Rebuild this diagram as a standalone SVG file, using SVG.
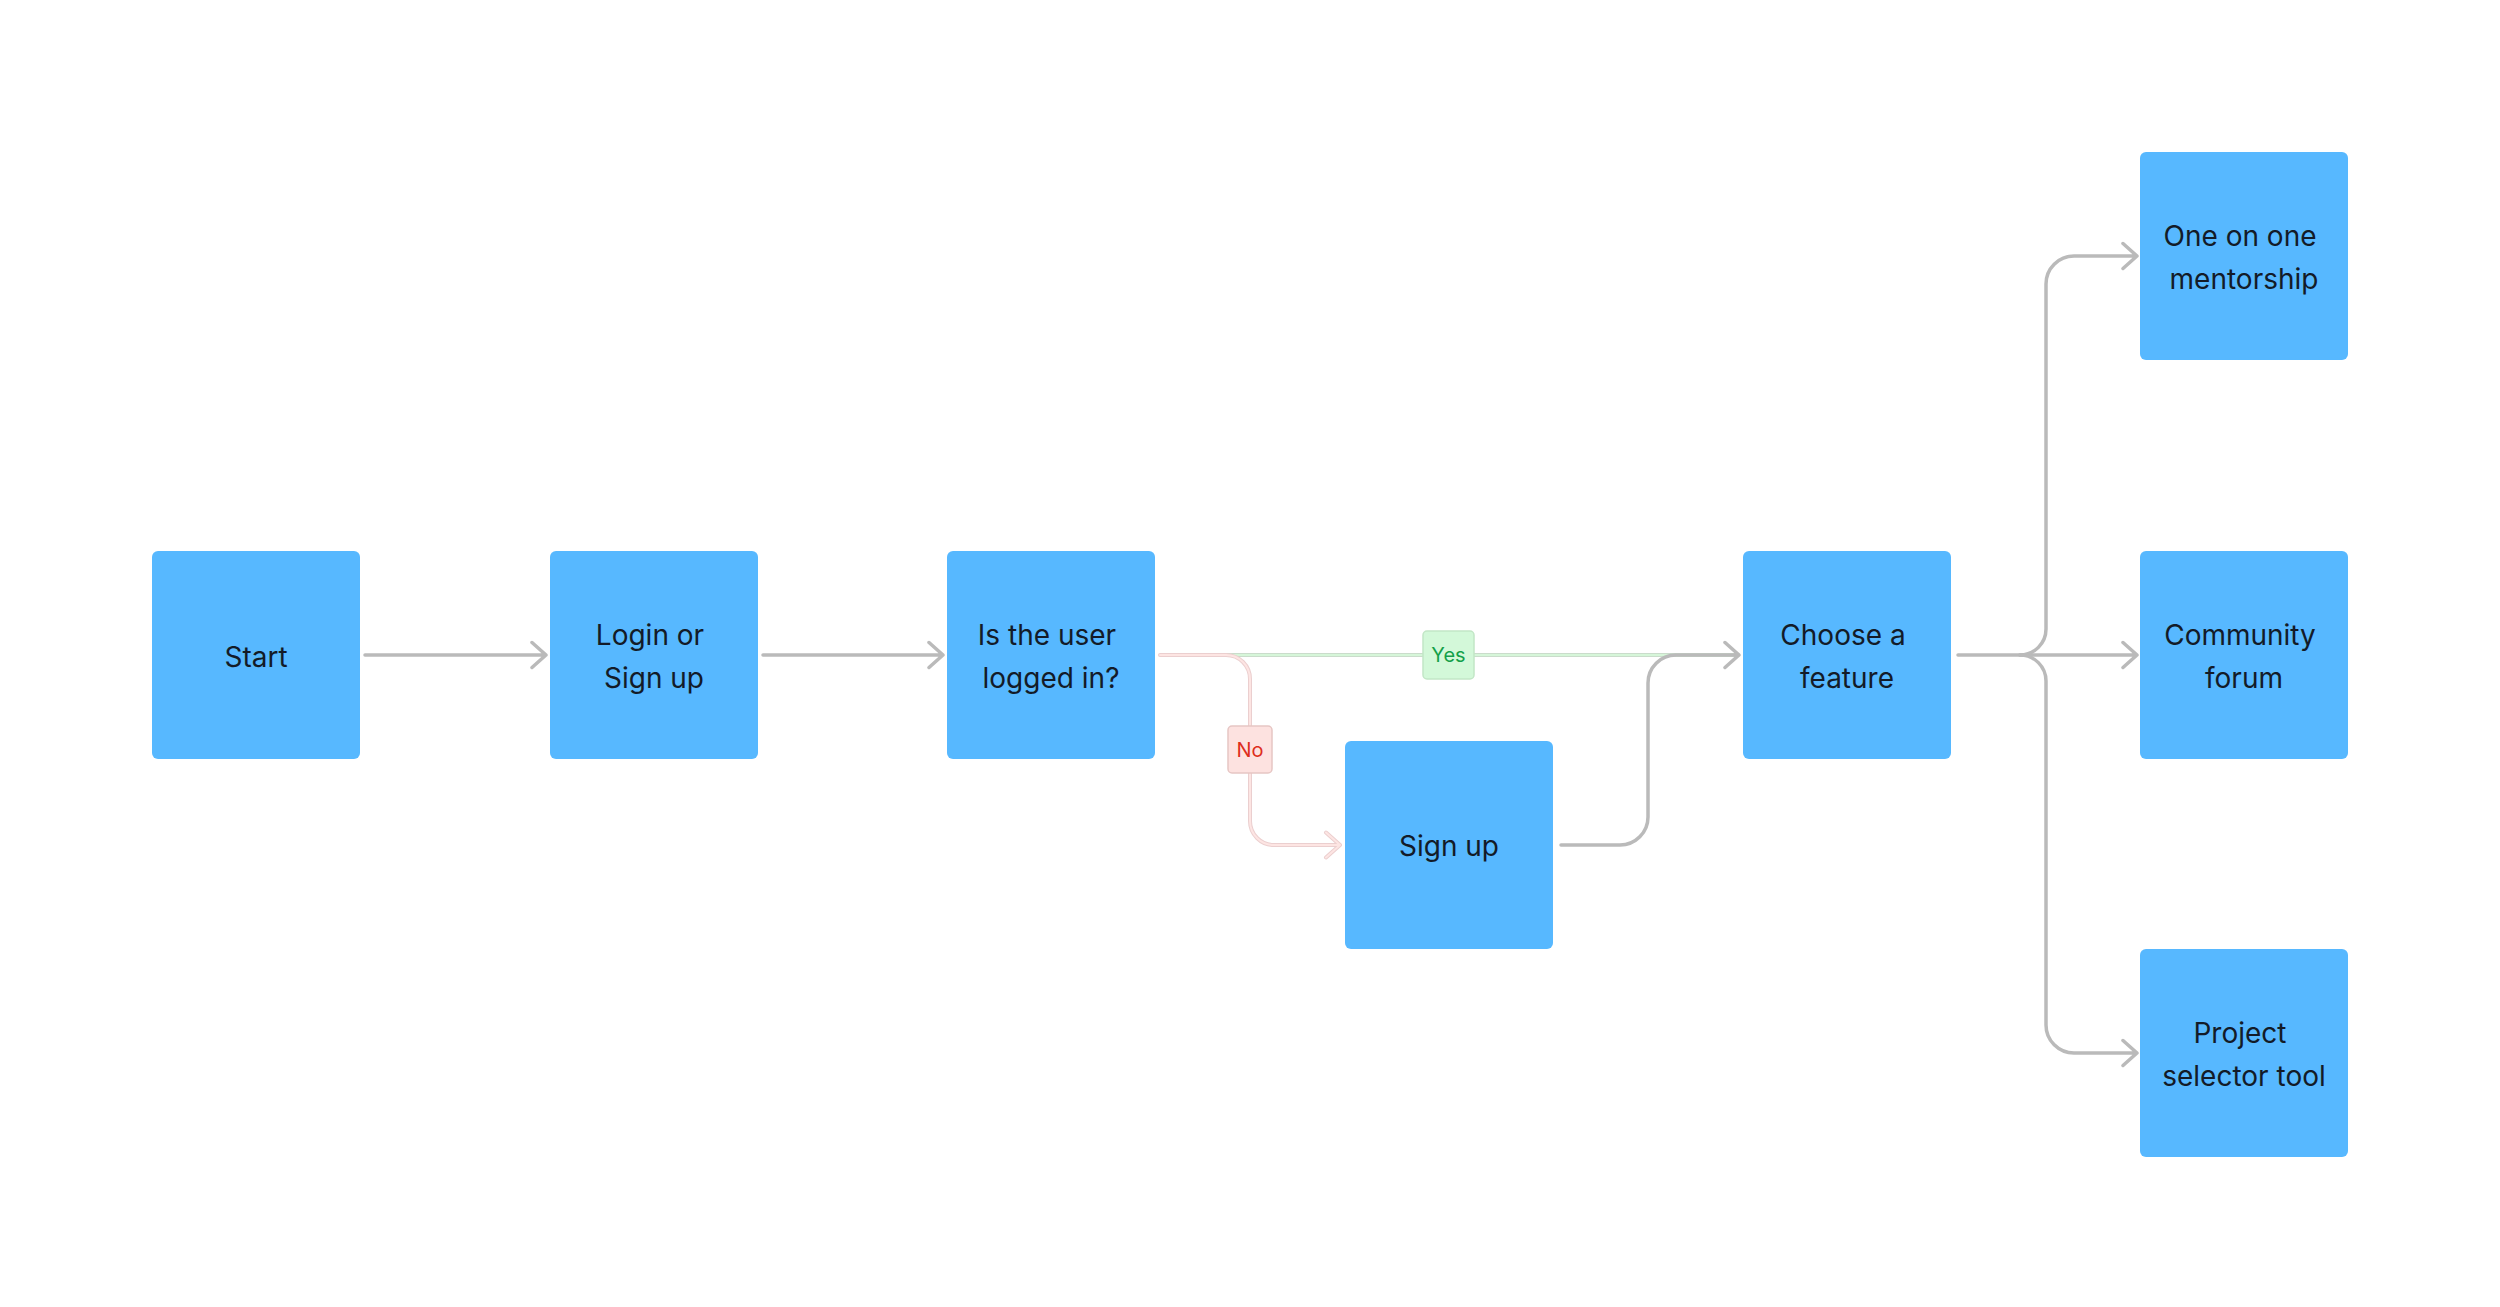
<svg xmlns="http://www.w3.org/2000/svg" width="2500" height="1307" viewBox="0 0 2500 1307">
<style>
.box{fill:#57b8ff;}
.t{font-family:Inter,"Liberation Sans",sans-serif;font-size:28px;fill:#131b28;text-anchor:middle;}
.c{fill:none;stroke:#bababa;stroke-width:3.5;stroke-linecap:round;stroke-linejoin:round;}
.go{fill:none;stroke:#cadccb;stroke-width:4;stroke-linecap:round;stroke-linejoin:round;}
.gi{fill:none;stroke:#d6f6d9;stroke-width:2;stroke-linecap:round;stroke-linejoin:round;}
.po{fill:none;stroke:#ebcfcf;stroke-width:4;stroke-linecap:round;stroke-linejoin:round;}
.pi{fill:none;stroke:#fde5e3;stroke-width:2;stroke-linecap:round;stroke-linejoin:round;}
.lbl{font-family:Inter,"Liberation Sans",sans-serif;font-size:20px;text-anchor:middle;}
</style>
<rect width="2500" height="1307" fill="#ffffff"/>
<g id="connectors">
  <path class="c" d="M365,655 H546 M532,642.5 L546,655 L532,667.5"/>
  <path class="c" d="M763,655 H943 M929,642.5 L943,655 L929,667.5"/>
  <path class="go" d="M1162,655 H1738"/>
  <path class="gi" d="M1162,655 H1738"/>
  <path class="po" d="M1160,655 H1226 A24,24 0 0 1 1250,679 V821 A24,24 0 0 0 1274,845 H1340 M1326,832.5 L1340,845 L1326,857.5"/>
  <path class="pi" d="M1160,655 H1226 A24,24 0 0 1 1250,679 V821 A24,24 0 0 0 1274,845 H1340 M1326,832.5 L1340,845 L1326,857.5"/>
  <path class="c" d="M1561,845 H1620 A28,28 0 0 0 1648,817 V683 A28,28 0 0 1 1676,655 H1739 M1725,642.5 L1739,655 L1725,667.5"/>
  <path class="c" d="M1958,655 H2137 M2123,642.5 L2137,655 L2123,667.5"/>
  <path class="c" d="M2020,655 A26,26 0 0 0 2046,629 V284 A28,28 0 0 1 2074,256 H2137 M2123,243.5 L2137,256 L2123,268.5"/>
  <path class="c" d="M2020,655 A26,26 0 0 1 2046,681 V1025 A28,28 0 0 0 2074,1053 H2137 M2123,1040.5 L2137,1053 L2123,1065.5"/>
  <g id="label-yes">
    <rect x="1423" y="631" width="51" height="48" rx="4" fill="#d3f8d9" stroke="#c2e6c6" stroke-width="1.5"/>
    <text class="lbl" x="1448.5" y="662" fill="#13a04a">Yes</text>
  </g>
  <g id="label-no">
    <rect x="1228" y="726" width="44" height="47" rx="4" fill="#fde2e0" stroke="#e6c6c4" stroke-width="1.5"/>
    <text class="lbl" x="1250" y="756.5" fill="#de2f1c">No</text>
  </g>
</g>
<g id="node-start">
  <rect class="box" x="152" y="551" width="208" height="208" rx="6"/>
  <text class="t" x="256" y="667">Start</text>
</g>
<g id="node-login">
  <rect class="box" x="550" y="551" width="208" height="208" rx="6"/>
  <text class="t" x="650" y="645">Login or</text>
  <text class="t" x="654" y="688">Sign up</text>
</g>
<g id="node-check">
  <rect class="box" x="947" y="551" width="208" height="208" rx="6"/>
  <text class="t" x="1047" y="645">Is the user</text>
  <text class="t" x="1051" y="688">logged in?</text>
</g>
<g id="node-signup">
  <rect class="box" x="1345" y="741" width="208" height="208" rx="6"/>
  <text class="t" x="1449" y="856">Sign up</text>
</g>
<g id="node-choose">
  <rect class="box" x="1743" y="551" width="208" height="208" rx="6"/>
  <text class="t" x="1843" y="645">Choose a</text>
  <text class="t" x="1847" y="688">feature</text>
</g>
<g id="node-mentorship">
  <rect class="box" x="2140" y="152" width="208" height="208" rx="6"/>
  <text class="t" x="2240" y="246">One on one</text>
  <text class="t" x="2244" y="289">mentorship</text>
</g>
<g id="node-forum">
  <rect class="box" x="2140" y="551" width="208" height="208" rx="6"/>
  <text class="t" x="2240" y="645">Community</text>
  <text class="t" x="2244" y="688">forum</text>
</g>
<g id="node-project">
  <rect class="box" x="2140" y="949" width="208" height="208" rx="6"/>
  <text class="t" x="2240" y="1043">Project</text>
  <text class="t" x="2244" y="1086">selector tool</text>
</g>
</svg>
